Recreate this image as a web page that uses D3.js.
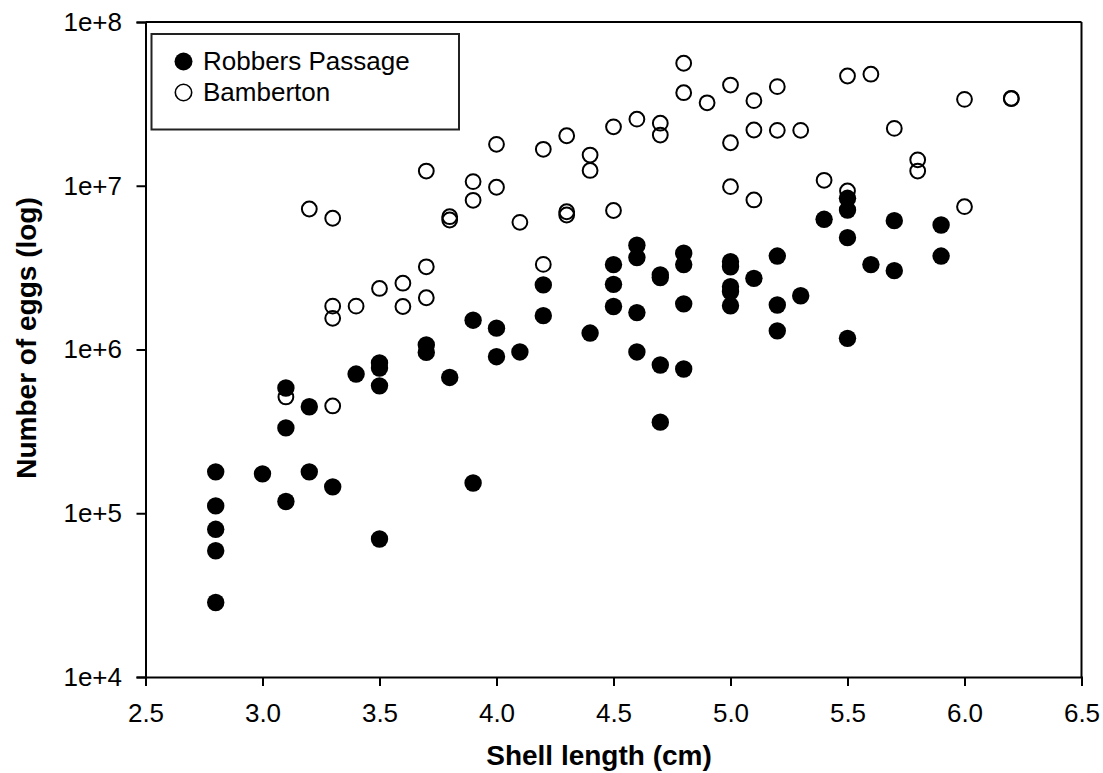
<!DOCTYPE html>
<html>
<head>
<meta charset="utf-8">
<script src="https://cdn.jsdelivr.net/npm/d3@7"></script>
<style>
    body { margin: 0; background: #ffffff; }
    text { font-family: "Liberation Sans", Arial, sans-serif; fill: #000; }
</style>
</head>
<body>
<div id="chart"></div>
<script>
// Robbers Passage (filled circles): shell length (cm) and number of eggs
const robbersLength = [
    2.8, 2.8, 2.8, 2.8, 2.8, 3.0, 3.1, 3.1, 3.1, 3.2, 3.2, 3.3, 3.4,
    3.5, 3.5, 3.5, 3.5, 3.7, 3.7, 3.8, 3.9, 3.9, 4.0, 4.0, 4.1, 4.2, 4.2,
    4.4, 4.5, 4.5, 4.5, 4.6, 4.6, 4.6, 4.6, 4.7, 4.7, 4.7, 4.7,
    4.8, 4.8, 4.8, 4.8, 5.0, 5.0, 5.0, 5.0, 5.0, 5.1, 5.2, 5.2, 5.2,
    5.3, 5.4, 5.5, 5.5, 5.5, 5.5, 5.6, 5.7, 5.7, 5.9, 5.9
];
const robbersEggs = [
    1.79e5, 1.11e5, 7.98e4, 5.9e4, 2.85e4, 1.74e5, 5.82e5, 3.32e5, 1.18e5, 4.47e5, 1.79e5, 1.45e5, 7.08e5,
    8.27e5, 7.7e5, 6.0e5, 6.96e4, 1.065e6, 9.6e5, 6.75e5, 1.51e6, 1.53e5, 1.35e6, 9.04e5, 9.66e5, 2.48e6, 1.61e6,
    1.26e6, 3.30e6, 2.50e6, 1.83e6, 4.33e6, 3.64e6, 1.68e6, 9.66e5, 2.85e6, 2.75e6, 8.04e5, 3.60e5,
    3.88e6, 3.30e6, 1.90e6, 7.6e5, 3.44e6, 3.20e6, 2.42e6, 2.25e6, 1.85e6, 2.72e6, 3.72e6, 1.87e6, 1.30e6,
    2.13e6, 6.24e6, 8.38e6, 7.11e6, 4.82e6, 1.17e6, 3.30e6, 6.12e6, 3.03e6, 5.76e6, 3.72e6
];

// Bamberton (open circles)
const bambertonLength = [
    3.1, 3.2, 3.3, 3.3, 3.3, 3.3, 3.4, 3.5, 3.6, 3.6, 3.7, 3.7, 3.7, 3.8, 3.8,
    3.9, 3.9, 4.0, 4.0, 4.1, 4.2, 4.2, 4.3, 4.3, 4.3, 4.4, 4.4, 4.5, 4.5,
    4.6, 4.7, 4.7, 4.8, 4.8, 4.9, 5.0, 5.0, 5.0, 5.1, 5.1, 5.1, 5.2, 5.2,
    5.3, 5.4, 5.5, 5.5, 5.6, 5.7, 5.8, 5.8, 6.0, 6.0, 6.2, 6.2
];
const bambertonEggs = [
    5.13e5, 7.21e6, 6.33e6, 1.84e6, 1.55e6, 4.52e5, 1.84e6, 2.36e6, 2.54e6, 1.83e6, 1.23e7, 3.2e6, 2.07e6, 6.47e6, 6.18e6,
    1.06e7, 8.15e6, 1.79e7, 9.79e6, 5.98e6, 1.67e7, 3.31e6, 2.02e7, 6.94e6, 6.63e6, 1.54e7, 1.24e7, 2.29e7, 7.06e6,
    2.55e7, 2.41e7, 2.04e7, 5.60e7, 3.70e7, 3.21e7, 4.12e7, 1.83e7, 9.87e6, 3.31e7, 2.19e7, 8.19e6, 4.03e7, 2.18e7,
    2.18e7, 1.08e7, 4.68e7, 9.29e6, 4.80e7, 2.24e7, 1.44e7, 1.23e7, 3.37e7, 7.45e6, 3.42e7, 3.40e7
];

const xTicks = [2.5, 3.0, 3.5, 4.0, 4.5, 5.0, 5.5, 6.0, 6.5];
const yTicks = [1e4, 1e5, 1e6, 1e7, 1e8];
const seriesNames = ["Robbers Passage", "Bamberton"];

const width = 1103, height = 773;
const margin = { left: 145.5, right: 1081.5, top: 22, bottom: 677 };

const svg = d3.select("#chart").append("svg")
    .attr("width", width)
    .attr("height", height);

const x = d3.scaleLinear().domain([2.5, 6.5]).range([margin.left, margin.right]);
const y = d3.scaleLog().domain([1e4, 1e8]).range([margin.bottom, margin.top]);

// frame top + right
svg.append("line")
    .attr("x1", x(2.5)).attr("x2", x(6.5))
    .attr("y1", y(1e8)).attr("y2", y(1e8))
    .style("stroke", "#000").style("stroke-width", 2);
svg.append("line")
    .attr("x1", x(6.5)).attr("x2", x(6.5))
    .attr("y1", y(1e8)).attr("y2", y(1e4))
    .style("stroke", "#000").style("stroke-width", 2);

const xAxis = svg.append("g")
    .attr("transform", `translate(0,${margin.bottom})`)
    .call(d3.axisBottom(x).tickValues(xTicks).tickFormat(d3.format(".1f")).tickSize(9).tickPadding(17.5));

const yAxis = svg.append("g")
    .attr("transform", `translate(${margin.left},0)`)
    .call(d3.axisLeft(y).tickValues(yTicks).tickFormat(d => "1e+" + Math.round(Math.log10(d))).tickSize(9).tickPadding(14.5));

[xAxis, yAxis].forEach(g => {
    g.select(".domain").style("stroke", "#000").style("stroke-width", 2);
    g.selectAll(".tick line").style("stroke", "#000").style("stroke-width", 2);
    g.selectAll(".tick text")
        .style("font-family", "'Liberation Sans', Arial, sans-serif")
        .style("font-size", "26px")
        .style("fill", "#000");
});

svg.append("text")
    .attr("x", 599)
    .attr("y", 765)
    .attr("text-anchor", "middle")
    .style("font-size", "28px")
    .style("font-weight", "bold")
    .text("Shell length (cm)");

svg.append("text")
    .attr("transform", "translate(36,338) rotate(-90)")
    .attr("text-anchor", "middle")
    .style("font-size", "28px")
    .style("font-weight", "bold")
    .text("Number of eggs (log)");

// open circles first, filled on top
svg.append("g").selectAll("circle")
    .data(d3.zip(bambertonLength, bambertonEggs))
    .enter().append("circle")
    .attr("cx", d => x(d[0]))
    .attr("cy", d => y(d[1]))
    .attr("r", 7.4)
    .style("fill", "none")
    .style("stroke", "#000")
    .style("stroke-width", 2);

svg.append("g").selectAll("circle")
    .data(d3.zip(robbersLength, robbersEggs))
    .enter().append("circle")
    .attr("cx", d => x(d[0]))
    .attr("cy", d => y(d[1]))
    .attr("r", 8.7)
    .style("fill", "#000");

// legend
const legend = svg.append("g");
legend.append("rect")
    .attr("x", 151.5).attr("y", 34)
    .attr("width", 307.5).attr("height", 95.5)
    .style("fill", "#fff")
    .style("stroke", "#222")
    .style("stroke-width", 2);

seriesNames.forEach((name, i) => {
    const cy = 61.5 + i * 31;
    legend.append("circle")
        .attr("cx", 183.5).attr("cy", cy)
        .attr("r", i === 0 ? 9 : 8.2)
        .style("fill", i === 0 ? "#000" : "none")
        .style("stroke", "#000")
        .style("stroke-width", i === 0 ? 0 : 1.6);
    legend.append("text")
        .attr("x", 203).attr("y", cy + 8)
        .style("font-size", "26px")
        .text(name);
});
</script>
</body>
</html>
